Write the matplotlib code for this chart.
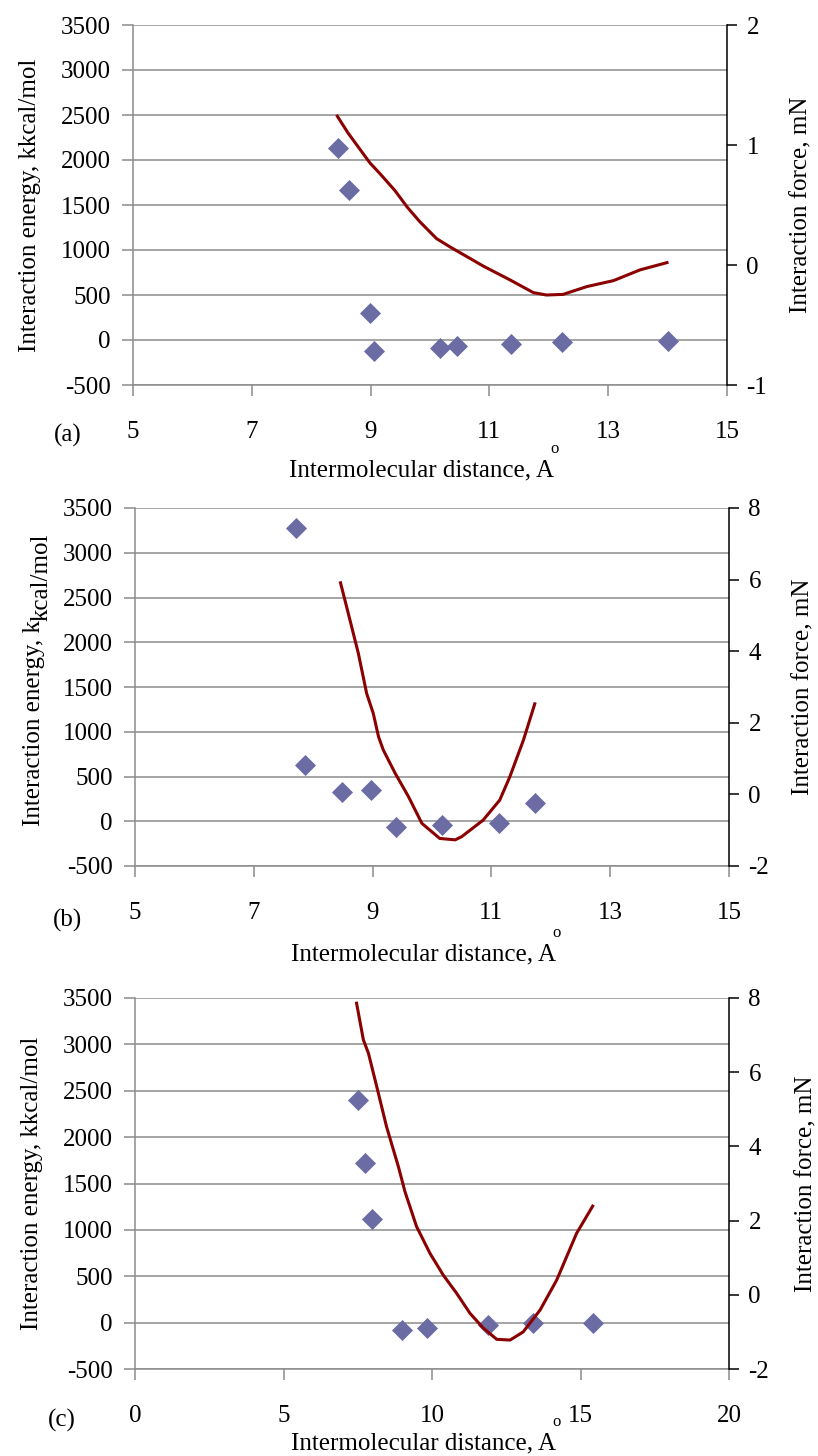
import matplotlib
matplotlib.use("Agg")
import matplotlib.pyplot as plt

plt.rcParams['font.family'] = ['Liberation Serif', 'DejaVu Serif']
plt.rcParams['axes.unicode_minus'] = False

# ---- Panel (a) ----
a_energy_x = [8.45, 8.64, 8.99, 9.05, 10.17, 10.45, 11.36, 12.23, 14.0]
a_energy_y = [2130, 1670, 305, -125, -90, -72, -45, -26, -8]
a_force_x = [8.44, 8.62, 8.99, 9.16, 9.41, 9.62, 9.83, 10.11, 10.34, 10.9, 11.35, 11.74, 11.96, 12.24, 12.64, 13.09, 13.54, 13.99]
a_force_y = [1.24, 1.10, 0.85, 0.76, 0.62, 0.48, 0.36, 0.22, 0.15, -0.01, -0.125, -0.23, -0.25, -0.245, -0.18, -0.13, -0.04, 0.02]

# ---- Panel (b) ----
b_energy_x = [7.71, 7.86, 8.48, 8.98, 9.39, 10.16, 11.12, 11.73]
b_energy_y = [3280, 628, 330, 349, -61, -42, -23, 200]
b_force_x = [8.46, 8.59, 8.76, 8.90, 9.01, 9.10, 9.18, 9.38, 9.60, 9.83, 10.13, 10.39, 10.50, 10.86, 11.14, 11.31, 11.54, 11.73]
b_force_y = [5.91, 5.06, 3.94, 2.82, 2.27, 1.61, 1.24, 0.59, -0.05, -0.81, -1.23, -1.27, -1.18, -0.72, -0.16, 0.49, 1.52, 2.53]

# ---- Panel (c) ----
c_energy_x = [7.5, 7.74, 7.97, 8.98, 9.82, 11.9, 13.41, 15.43]
c_energy_y = [2400, 1718, 1114, -80, -61, -26, -8, -1]
c_force_x = [7.46, 7.69, 7.86, 8.14, 8.47, 8.87, 9.09, 9.48, 9.93, 10.38, 10.83, 11.28, 11.73, 12.18, 12.63, 13.07, 13.64, 14.2, 14.87, 15.41]
c_force_y = [7.86, 6.87, 6.51, 5.61, 4.53, 3.45, 2.78, 1.84, 1.12, 0.53, 0.04, -0.5, -0.9, -1.2, -1.22, -1.0, -0.41, 0.40, 1.66, 2.39]

energy_ticks = [-500, 0, 500, 1000, 1500, 2000, 2500, 3000, 3500]

panels = [
    dict(rect=[133/818, 1-385/1456, 594/818, 360/1456], ex=a_energy_x, ey=a_energy_y,
         fx=a_force_x, fy=a_force_y, xlim=(5, 15), xticks=[5, 7, 9, 11, 13, 15],
         flim=(-1, 2), fticks=[-1, 0, 1, 2], tag="(a)", tagpos=(68/818, 1-435/1456),
         xlpad=12, ylpad=14, rlpad=17, split=False),
    dict(rect=[135/818, 1-866/1456, 594/818, 358/1456], ex=b_energy_x, ey=b_energy_y,
         fx=b_force_x, fy=b_force_y, xlim=(5, 15), xticks=[5, 7, 9, 11, 13, 15],
         flim=(-2, 8), fticks=[-2, 0, 2, 4, 6, 8], tag="(b)", tagpos=(68/818, 1-920/1456),
         xlpad=14, ylpad=12, rlpad=17, split=True),
    dict(rect=[135/818, 1-1369/1456, 594/818, 371/1456], ex=c_energy_x, ey=c_energy_y,
         fx=c_force_x, fy=c_force_y, xlim=(0, 20), xticks=[0, 5, 10, 15, 20],
         flim=(-2, 8), fticks=[-2, 0, 2, 4, 6, 8], tag="(c)", tagpos=(62/818, 1-1420/1456),
         xlpad=4, ylpad=14, rlpad=19, split=False),
]

fig = plt.figure(figsize=(8.18, 14.56), dpi=100)
FS = 18
GRID = '#8c8c8c'
made = []

for p in panels:
    ax = fig.add_axes(p['rect'])
    ax.set_xlim(*p['xlim'])
    ax.set_ylim(-500, 3500)
    ax.set_xticks(p['xticks'])
    ax.set_yticks(energy_ticks)
    ax.yaxis.grid(True, color=GRID, lw=1.1)
    ax.set_axisbelow(True)
    for s in ['top', 'right']:
        ax.spines[s].set_visible(False)
    for s in ['left', 'bottom']:
        ax.spines[s].set_color(GRID)
        ax.spines[s].set_linewidth(1.1)
    ax.tick_params(axis='x', direction='out', length=8, width=1.1, color=GRID, labelsize=FS, pad=18)
    ax.tick_params(axis='y', direction='out', length=8, width=1.1, color=GRID, labelsize=FS, pad=8)
    ax.scatter(p['ex'], p['ey'], marker='D', s=115, color='#6b6ca3', zorder=3, linewidths=0)
    if not p['split']:
        ax.set_ylabel("Interaction energy, kkcal/mol", fontsize=FS, labelpad=p['ylpad'])
    ax.set_xlabel("Intermolecular distance, A", fontsize=FS, labelpad=p['xlpad'])
    ax.xaxis.label.set_x(0.485)

    ax2 = ax.twinx()
    ax2.set_ylim(*p['flim'])
    ax2.set_yticks(p['fticks'])
    for s in ['top', 'left', 'bottom']:
        ax2.spines[s].set_visible(False)
    ax2.spines['right'].set_color('black')
    ax2.spines['right'].set_linewidth(1.1)
    ax2.tick_params(axis='y', direction='out', length=7, width=1.1, color='black', labelsize=FS, pad=7)
    ax2.plot(p['fx'], p['fy'], color='#8b0000', lw=2.2, zorder=4)
    ax2.set_ylabel("Interaction force, mN", fontsize=FS, labelpad=p['rlpad'])

    fig.text(p['tagpos'][0], p['tagpos'][1], p['tag'], fontsize=FS, ha='center', va='center')
    made.append((ax, p))

fig.canvas.draw()
r = fig.canvas.get_renderer()
W, H = fig.bbox.width, fig.bbox.height
for ax, p in made:
    bb = ax.xaxis.label.get_window_extent(r)
    # degree mark above the final "A"
    fig.text((bb.x1 + 1) / W, (bb.y1 + 11) / H, "o", fontsize=12, ha='center', va='center')
    if p['split']:
        # label drawn in two pieces: "kcal/mol" sits slightly lower (towards the axis)
        full = fig.text(0, 0, "Interaction energy, kkcal/mol", fontsize=FS, rotation=90)
        fb = full.get_window_extent(r)
        full.remove()
        t1 = fig.text(0, 0, "Interaction energy, k", fontsize=FS, rotation=90,
                      ha='center', va='bottom')
        b1 = t1.get_window_extent(r)
        cx = 34
        cy = (ax.bbox.y0 + ax.bbox.y1) / 2 + 8
        ybot = cy - fb.height / 2
        t1.set_position((cx / W, ybot / H))
        fig.text((cx + 8) / W, (ybot + b1.height - 1) / H, "kcal/mol", fontsize=FS,
                 rotation=90, ha='center', va='bottom')

fig.savefig("out.png", dpi=100)
